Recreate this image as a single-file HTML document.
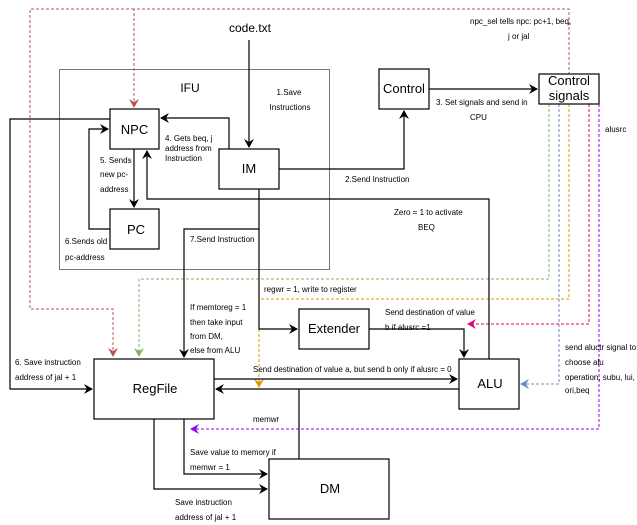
<!DOCTYPE html>
<html><head><meta charset="utf-8"><style>
html,body{margin:0;padding:0;background:#fff;}
svg{display:block;font-family:"Liberation Sans",sans-serif;}
.s{font-size:8px;fill:#000;}
.b{fill:#fff;stroke:#000;stroke-width:1.2;}
.l{fill:none;stroke:#000;stroke-width:1.2;}
.d{fill:none;stroke-width:1;stroke-dasharray:3,2;}
</style></head><body>
<svg width="637" height="525" viewBox="0 0 637 525" xmlns="http://www.w3.org/2000/svg">
<defs>
<marker id="a" markerWidth="10" markerHeight="10" refX="8" refY="5" orient="auto" markerUnits="userSpaceOnUse"><path d="M0,0 L9,5 L0,10 L3,5 z" fill="#000"/></marker>
<marker id="ar" markerWidth="10" markerHeight="10" refX="8" refY="5" orient="auto" markerUnits="userSpaceOnUse"><path d="M0,0 L9,5 L0,10 L3,5 z" fill="#b85450"/></marker>
<marker id="ag" markerWidth="10" markerHeight="10" refX="8" refY="5" orient="auto" markerUnits="userSpaceOnUse"><path d="M0,0 L9,5 L0,10 L3,5 z" fill="#82b366"/></marker>
<marker id="ab" markerWidth="10" markerHeight="10" refX="8" refY="5" orient="auto" markerUnits="userSpaceOnUse"><path d="M0,0 L9,5 L0,10 L3,5 z" fill="#6c8ebf"/></marker>
<marker id="ao" markerWidth="10" markerHeight="10" refX="8" refY="5" orient="auto" markerUnits="userSpaceOnUse"><path d="M0,0 L9,5 L0,10 L3,5 z" fill="#d79b00"/></marker>
<marker id="ap" markerWidth="10" markerHeight="10" refX="8" refY="5" orient="auto" markerUnits="userSpaceOnUse"><path d="M0,0 L9,5 L0,10 L3,5 z" fill="#e6007e"/></marker>
<marker id="av" markerWidth="10" markerHeight="10" refX="8" refY="5" orient="auto" markerUnits="userSpaceOnUse"><path d="M0,0 L9,5 L0,10 L3,5 z" fill="#9900ff"/></marker>
</defs>

<!-- IFU -->
<rect x="59.5" y="69.5" width="270" height="200" fill="none" stroke="#777" stroke-width="1"/>
<text x="190" y="92" font-size="12" text-anchor="middle">IFU</text>

<!-- dashed signals -->
<path class="d" stroke="#b85450" d="M134,9 H30 V309 H113 V356" marker-end="url(#ar)"/>
<path class="d" stroke="#b85450" d="M569,75 V9 H134 V107" marker-end="url(#ar)"/>
<path class="d" stroke="#82b366" d="M549,104 V279 H139 V356" marker-end="url(#ag)"/>
<path class="d" stroke="#6c8ebf" d="M559,104 V384 H521" marker-end="url(#ab)"/>
<path class="d" stroke="#d79b00" d="M569,104 V299 H259 V387" marker-end="url(#ao)"/>
<path class="d" stroke="#e6007e" d="M589,104 V324 H468" marker-end="url(#ap)"/>
<path class="d" stroke="#9900ff" d="M599,104 V429 H191" marker-end="url(#av)"/>

<!-- solid connectors -->
<path class="l" d="M249,40 V147" marker-end="url(#a)"/>
<path class="l" d="M229,149 V118 H161" marker-end="url(#a)"/>
<path class="l" d="M134,149 V207" marker-end="url(#a)"/>
<path class="l" d="M110,229 H89 V129 H108" marker-end="url(#a)"/>
<path class="l" d="M279,169 H404 V111" marker-end="url(#a)"/>
<path class="l" d="M429,89 H537" marker-end="url(#a)"/>
<path class="l" d="M489,359 V199 H147 V151" marker-end="url(#a)"/>
<path class="l" d="M110,119 H10 V389 H92" marker-end="url(#a)"/>
<path class="l" d="M259,189 V229 H184 V357" marker-end="url(#a)"/>
<path class="l" d="M259,229 V329 H297" marker-end="url(#a)"/>
<path class="l" d="M369,329 H464 V357" marker-end="url(#a)"/>
<path class="l" d="M214,379 H457" marker-end="url(#a)"/>
<path class="l" d="M459,389 H216" marker-end="url(#a)"/>
<path class="l" d="M299,389 V459"/>
<path class="l" d="M184,419 V474 H267" marker-end="url(#a)"/>
<path class="l" d="M154,419 V489 H267" marker-end="url(#a)"/>

<!-- boxes -->
<rect class="b" x="110" y="109" width="49" height="40"/>
<text x="134.5" y="134" font-size="13" text-anchor="middle">NPC</text>
<rect class="b" x="110" y="209" width="49" height="40"/>
<text x="136" y="234" font-size="13" text-anchor="middle">PC</text>
<rect class="b" x="219" y="149" width="60" height="40"/>
<text x="249" y="173" font-size="13" text-anchor="middle">IM</text>
<rect class="b" x="379" y="69" width="50" height="40"/>
<text x="404" y="93" font-size="13" text-anchor="middle">Control</text>
<rect class="b" x="539" y="74" width="60" height="30"/>
<text x="569" y="85" font-size="13" text-anchor="middle">Control</text>
<text x="569" y="100" font-size="13" text-anchor="middle">signals</text>
<rect class="b" x="299" y="309" width="70" height="40"/>
<text x="334" y="333" font-size="13" text-anchor="middle">Extender</text>
<rect class="b" x="459" y="359" width="60" height="50"/>
<text x="490" y="388" font-size="13" text-anchor="middle">ALU</text>
<rect class="b" x="94" y="359" width="120" height="60"/>
<text x="155" y="393" font-size="13" text-anchor="middle">RegFile</text>
<rect class="b" x="269" y="459" width="120" height="60"/>
<text x="330" y="493" font-size="13" text-anchor="middle">DM</text>

<text x="250" y="32" font-size="12" text-anchor="middle">code.txt</text>

<!-- labels -->
<g class="s">
<text x="289" y="95" text-anchor="middle">1.Save</text>
<text x="290" y="110" text-anchor="middle">Instructions</text>
<text x="165" y="141">4. Gets beq, j</text>
<text x="165" y="151">address from</text>
<text x="165" y="161">Instruction</text>
<text x="100" y="163">5. Sends</text>
<text x="100" y="177">new pc-</text>
<text x="100" y="192">address</text>
<text x="65" y="244">6.Sends old</text>
<text x="65" y="260">pc-address</text>
<text x="190" y="242">7.Send Instruction</text>
<text x="345" y="182">2.Send Instruction</text>
<text x="436" y="105">3. Set signals and send in</text>
<text x="470" y="120">CPU</text>
<text x="470" y="24">npc_sel tells npc: pc+1, beq,</text>
<text x="508" y="39">j or jal</text>
<text x="605" y="132">alusrc</text>
<text x="394" y="215">Zero = 1 to activate</text>
<text x="418" y="230">BEQ</text>
<text x="264" y="292">regwr = 1, write to register</text>
<text x="190" y="310">If memtoreg = 1</text>
<text x="190" y="325">then take input</text>
<text x="190" y="339">from DM,</text>
<text x="190" y="353">else from ALU</text>
<text x="385" y="315">Send destination of value</text>
<text x="385" y="330">b if alusrc =1</text>
<text x="253" y="372">Send destination of value a, but send b only if alusrc = 0</text>
<text x="565" y="350">send aluctr signal to</text>
<text x="565" y="365">choose alu</text>
<text x="565" y="380">operation, subu, lui,</text>
<text x="565" y="393">ori,beq</text>
<text x="253" y="422">memwr</text>
<text x="190" y="455">Save value to memory if</text>
<text x="190" y="470">memwr = 1</text>
<text x="175" y="505">Save instruction</text>
<text x="175" y="520">address of jal + 1</text>
<text x="15" y="365">6. Save instruction</text>
<text x="15" y="380">address of jal + 1</text>
</g>
</svg>
</body></html>
